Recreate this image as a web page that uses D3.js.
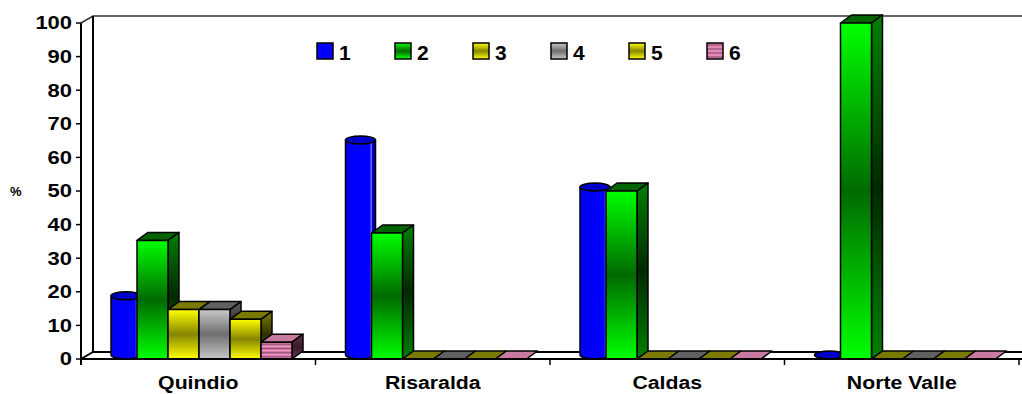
<!DOCTYPE html>
<html>
<head>
<meta charset="utf-8">
<script src="https://cdn.jsdelivr.net/npm/d3@7/dist/d3.min.js"></script>
<style>
  html, body { margin: 0; padding: 0; background: #fff; }
  svg { display: block; }
  text { font-family: "Liberation Sans", Arial, sans-serif; font-weight: bold; fill: #000; }
</style>
</head>
<body>
<svg id="chart" width="1022" height="394"></svg>
<script>
// Regions and percentage of each response group
const categories = ["Quindio", "Risaralda", "Caldas", "Norte Valle"];
const seriesNames = ["1", "2", "3", "4", "5", "6"];
const serie1 = [17.6, 64, 50, 0];
const serie2 = [35.3, 37.5, 50, 100];
const serie3 = [14.7, 0, 0, 0];
const serie4 = [14.7, 0, 0, 0];
const serie5 = [11.8, 0, 0, 0];
const serie6 = [5, 0, 0, 0];
const yTicks = [0, 10, 20, 30, 40, 50, 60, 70, 80, 90, 100];
const yTitle = "%";

const seriesValues = [serie1, serie2, serie3, serie4, serie5, serie6];

const svg = d3.select("#chart");
const W = 1022;

// 3D projection offsets
const wallDx = 12, wallDy = -7;
const barDx = 11, barDy = -8;

const x = d3.scaleBand().domain(categories).range([81, 1019]);
const xi = d3.scaleBand().domain(seriesNames).range([25, 211]);
const y = d3.scaleLinear().domain([0, 100]).range([359, 23]);
const y0 = y(0);

// Fill styles per series: front gradient stops, side gradient stops, top colour
const styles = [
  { kind: "cyl", top: "#0000c8" },
  { front: ["#00ff00", "#006a00", "#00ff00"], side: ["#008000", "#002a00", "#008000"], top: "#006400" },
  { front: ["#ffff00", "#868600", "#ffff00"], side: ["#808000", "#2e2e00", "#808000"], top: "#7a7a00" },
  { front: ["#c8c8c8", "#6e6e6e", "#c8c8c8"], side: ["#5a5a5a", "#2a2a2a", "#5a5a5a"], top: "#606060" },
  { front: ["#ffff00", "#868600", "#ffff00"], side: ["#808000", "#2e2e00", "#808000"], top: "#7a7a00" },
  { front: ["#ff99cc", "#995577", "#ff99cc", "#995577", "#ff99cc", "#995577", "#ff99cc", "#995577", "#ff99cc"],
    side: ["#6b3550", "#3a1a2a", "#6b3550"], top: "#c87aa0" }
];

const defs = svg.append("defs");
function vGrad(id, stops) {
  const g = defs.append("linearGradient").attr("id", id)
    .attr("x1", 0).attr("y1", 0).attr("x2", 0).attr("y2", 1);
  stops.forEach((c, i) => g.append("stop")
    .attr("offset", i / (stops.length - 1)).attr("stop-color", c));
}
styles.forEach((s, i) => {
  if (s.front) { vGrad("front" + i, s.front); vGrad("side" + i, s.side); }
});
// cylinder body shading
const cg = defs.append("linearGradient").attr("id", "cyl")
  .attr("x1", 0).attr("y1", 0).attr("x2", 1).attr("y2", 0);
[["0", "#0000e6"], ["0.3", "#0000ff"], ["0.8", "#0000ff"], ["0.86", "#7070ff"], ["0.9", "#0000e0"], ["1", "#00007a"]]
  .forEach(([o, c]) => cg.append("stop").attr("offset", o).attr("stop-color", c));

// Walls: left side wall, back wall outline, floor
const frame = svg.append("g").attr("fill", "none").attr("stroke", "#000");
frame.append("path")
  .attr("d", `M81,${y(100)} L${81 + wallDx},${y(100) + wallDy} L${W},${y(100) + wallDy}`)
  .attr("stroke", "#333").attr("stroke-width", 1.5);
frame.append("line")
  .attr("x1", 81 + wallDx).attr("x2", 81 + wallDx)
  .attr("y1", y(100) + wallDy).attr("y2", y0 + wallDy)
  .attr("stroke-width", 2);
frame.append("path")
  .attr("d", `M81,${y0} L${81 + wallDx},${y0 + wallDy} L${W},${y0 + wallDy}`)
  .attr("stroke-width", 2);

// Y axis
const yAxis = svg.append("g");
yAxis.append("line").attr("x1", 81).attr("x2", 81)
  .attr("y1", y(100)).attr("y2", y0 + 6).attr("stroke", "#000").attr("stroke-width", 2);
yTicks.forEach(t => {
  yAxis.append("line").attr("x1", 76).attr("x2", 81)
    .attr("y1", y(t)).attr("y2", y(t)).attr("stroke", "#000").attr("stroke-width", 1.5);
  yAxis.append("g").attr("transform", `translate(72,${y(t)}) scale(1.22,1)`)
    .append("text").attr("text-anchor", "end").attr("dy", "0.36em")
    .style("font-size", "18px").text(t);
});
svg.append("text").attr("x", 10).attr("y", y(50) + 5)
  .style("font-size", "13px").text(yTitle);

// Bars
const bars = svg.append("g").attr("stroke", "#000").attr("stroke-width", 1.5).attr("stroke-linejoin", "round");
categories.forEach((cat, ci) => {
  seriesNames.forEach((sn, si) => {
    const v = seriesValues[si][ci];
    const bx = x(cat) + xi(sn);
    const bw = xi.bandwidth();
    const top = y(v);
    const st = styles[si];
    if (st.kind === "cyl") {
      const rx = 15, ry = 4;
      const cx0 = bx + 5;
      const cTop = top + barDy / 2;
      const cBot = y0 + barDy / 2;
      if (v > 0) {
        bars.append("path")
          .attr("d", `M${cx0},${cTop} L${cx0},${cBot} A${rx},${ry} 0 0 0 ${cx0 + 2 * rx},${cBot} L${cx0 + 2 * rx},${cTop} Z`)
          .attr("fill", "url(#cyl)");
      }
      bars.append("ellipse").attr("cx", cx0 + rx).attr("cy", cTop)
        .attr("rx", rx).attr("ry", ry).attr("fill", st.top);
      return;
    }
    // top face
    bars.append("path")
      .attr("d", `M${bx},${top} L${bx + barDx},${top + barDy} L${bx + bw + barDx},${top + barDy} L${bx + bw},${top} Z`)
      .attr("fill", st.top);
    if (v > 0) {
      // side face
      bars.append("path")
        .attr("d", `M${bx + bw},${top} L${bx + bw + barDx},${top + barDy} L${bx + bw + barDx},${y0 + barDy} L${bx + bw},${y0} Z`)
        .attr("fill", `url(#side${si})`);
      // front face
      bars.append("rect").attr("x", bx).attr("y", top)
        .attr("width", bw).attr("height", y0 - top)
        .attr("fill", `url(#front${si})`);
    }
  });
});

// Category axis along the floor front edge
const xAxis = svg.append("g");
xAxis.append("line").attr("x1", 81).attr("x2", W).attr("y1", y0).attr("y2", y0)
  .attr("stroke", "#000").attr("stroke-width", 2);
const bounds = categories.map(c => x(c)).concat([x.range()[1]]);
bounds.forEach(b => xAxis.append("line").attr("x1", b).attr("x2", b)
  .attr("y1", y0).attr("y2", y0 + 6).attr("stroke", "#000").attr("stroke-width", 1.5));
categories.forEach(c => {
  xAxis.append("g").attr("transform", `translate(${x(c) + x.bandwidth() / 2},389) scale(1.12,1)`)
    .append("text").attr("text-anchor", "middle").style("font-size", "19px").text(c);
});

// Legend
const legend = svg.append("g");
seriesNames.forEach((sn, i) => {
  const lx = 317 + i * 78;
  const fill = i === 0 ? "#0000ff" : `url(#front${i})`;
  legend.append("rect").attr("x", lx).attr("y", 43).attr("width", 16).attr("height", 16)
    .attr("fill", fill).attr("stroke", "#000").attr("stroke-width", 1.5);
  legend.append("text").attr("x", lx + 22).attr("y", 60)
    .style("font-size", "21px").text(sn);
});
</script>
</body>
</html>
